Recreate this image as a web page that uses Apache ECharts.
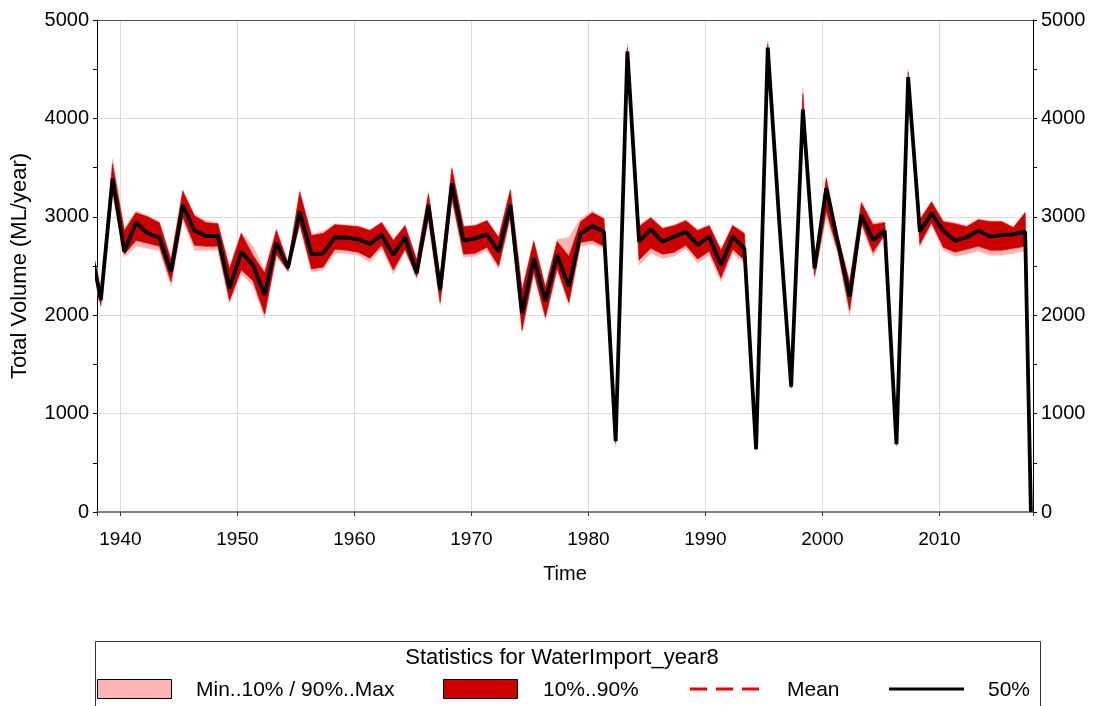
<!DOCTYPE html>
<html>
<head>
<meta charset="utf-8">
<script src="https://cdn.jsdelivr.net/npm/echarts@6/dist/echarts.min.js"></script>
<style>
  html, body { margin: 0; padding: 0; background: #ffffff; }
  #chart { width: 1096px; height: 706px; }
</style>
</head>
<body>
<div id="chart"></div>
<script>
// Annual water import statistics (ML/year), one value per simulated year.
const years = [
  1937, 1938, 1939, 1940, 1941, 1942, 1943, 1944, 1945, 1946,
  1947, 1948, 1949, 1950, 1951, 1952, 1953, 1954, 1955, 1956,
  1957, 1958, 1959, 1960, 1961, 1962, 1963, 1964, 1965, 1966,
  1967, 1968, 1969, 1970, 1971, 1972, 1973, 1974, 1975, 1976,
  1977, 1978, 1979, 1980, 1981, 1982, 1983, 1984, 1985, 1986,
  1987, 1988, 1989, 1990, 1991, 1992, 1993, 1994, 1995, 1996,
  1997, 1998, 1999, 2000, 2001, 2002, 2003, 2004, 2005, 2006,
  2007, 2008, 2009, 2010, 2011, 2012, 2013, 2014, 2015, 2016,
  2017
];
// each annual value is reported about a third of the way into its year
const reportFraction = 0.33;
// the run closes shortly before 2018 with a zero volume
const endTime = 2017.82;
const endVolume = 0;

const p50 = [
  2770, 2154, 3390, 2645, 2940, 2832, 2788, 2442, 3120, 2859,
  2805, 2805, 2273, 2645, 2510, 2205, 2737, 2483, 3052, 2619,
  2629, 2792, 2788, 2771, 2724, 2815, 2612, 2792, 2425, 3120,
  2256, 3340, 2757, 2781, 2822, 2645, 3120, 2019, 2578, 2144,
  2612, 2290, 2832, 2906, 2849,  720, 4680, 2747, 2873, 2747,
  2798, 2849, 2713, 2798, 2510, 2798, 2680,  640, 4720, 2920,
  1274, 4090, 2476, 3290, 2737, 2188, 3018, 2764, 2859,  690,
  4420, 2849, 3035, 2859, 2757, 2792, 2859, 2798, 2815, 2822,
  2849
];
const p10 = [
  2650, 2100, 3280, 2620, 2760, 2730, 2700, 2340, 3000, 2710,
  2700, 2700, 2150, 2460, 2350, 2010, 2620, 2450, 2930, 2470,
  2490, 2670, 2660, 2640, 2580, 2710, 2460, 2670, 2390, 2980,
  2130, 3190, 2620, 2630, 2690, 2500, 3010, 1850, 2440, 1980,
  2480, 2130, 2740, 2760, 2700,  700, 4640, 2560, 2680, 2620,
  2640, 2710, 2570, 2650, 2380, 2670, 2560,  630, 4690, 2900,
  1260, 4050, 2400, 3060, 2650, 2050, 2940, 2640, 2820,  680,
  4380, 2720, 2940, 2690, 2640, 2670, 2700, 2660, 2660, 2680,
  2700
];
const p90 = [
  2900, 2230, 3540, 2860, 3040, 3000, 2940, 2560, 3260, 3010,
  2940, 2930, 2470, 2830, 2610, 2430, 2860, 2530, 3250, 2810,
  2830, 2920, 2910, 2900, 2860, 2940, 2760, 2910, 2560, 3230,
  2380, 3490, 2900, 2910, 2960, 2790, 3270, 2250, 2750, 2280,
  2750, 2600, 2950, 3040, 2980,  740, 4720, 2900, 2990, 2880,
  2910, 2960, 2860, 2910, 2660, 2910, 2830,  660, 4760, 2950,
  1290, 4250, 2500, 3390, 2800, 2330, 3140, 2920, 2940,  700,
  4470, 2970, 3150, 2950, 2930, 2900, 2970, 2950, 2950, 2890,
  3040
];
const pMin = [
  2600, 2080, 3220, 2590, 2700, 2680, 2660, 2300, 2970, 2660,
  2660, 2660, 2120, 2420, 2300, 1970, 2600, 2440, 2910, 2440,
  2460, 2630, 2630, 2610, 2540, 2680, 2420, 2650, 2370, 2960,
  2100, 3170, 2590, 2600, 2660, 2470, 2990, 1820, 2420, 1950,
  2450, 2100, 2700, 2720, 2680,  660, 4620, 2510, 2630, 2580,
  2600, 2680, 2530, 2610, 2340, 2630, 2530,  620, 4670, 2890,
  1250, 4030, 2370, 3000, 2620, 1990, 2910, 2600, 2810,  660,
  4360, 2690, 2920, 2660, 2600, 2620, 2650, 2610, 2610, 2630,
  2650
];
const pMax = [
  2950, 2260, 3590, 2880, 3060, 3010, 2950, 2580, 3280, 3020,
  2960, 2940, 2500, 2840, 2700, 2460, 2880, 2540, 3270, 2820,
  2850, 2930, 2920, 2910, 2870, 2950, 2770, 2920, 2570, 3250,
  2400, 3510, 2910, 2920, 2970, 2800, 3290, 2270, 2760, 2300,
  2770, 2790, 2980, 3060, 2990,  760, 4760, 2920, 3000, 2890,
  2920, 2970, 2870, 2920, 2670, 2920, 2840,  670, 4790, 2960,
  1300, 4310, 2510, 3410, 2810, 2350, 3160, 2940, 2950,  710,
  4500, 2980, 3160, 2960, 2940, 2910, 2980, 2960, 2960, 2900,
  3050
];
const yTicks = [0, 1000, 2000, 3000, 4000, 5000];

// time stamps and series values, closing with the final zero record
const times = years.map(y => y + reportFraction).concat([endTime]);
const withEnd = arr => arr.concat([endVolume]);
const s50 = withEnd(p50), s10 = withEnd(p10), s90 = withEnd(p90);
const sMin = withEnd(pMin), sMax = withEnd(pMax);

const PINK = '#ffb4b4';
const RED = '#cc0000';
const FONT = 'Liberation Sans, Arial, sans-serif';

// a filled band between a lower and an upper curve, drawn as one polygon
function bandSeries(name, lo, hi, color, z) {
  return {
    name, type: 'custom', z, silent: true,
    data: times.map((t, i) => [t, lo[i], hi[i]]),
    encode: { x: 0, y: [1, 2] },
    renderItem: (params, api) => {
      if (params.dataIndex !== 0) return null;
      const top = times.map((t, i) => api.coord([t, hi[i]]));
      const bottom = times.map((t, i) => api.coord([t, lo[i]])).reverse();
      const cs = params.coordSys;
      return {
        type: 'polygon',
        shape: { points: top.concat(bottom) },
        style: { fill: color, stroke: color, lineWidth: 0.6 },
        clipPath: { type: 'rect', shape: { x: cs.x, y: cs.y, width: cs.width, height: cs.height } }
      };
    }
  };
}

const chart = echarts.init(document.getElementById('chart'), null, { renderer: 'canvas' });

const yAxisBase = {
  type: 'value', min: yTicks[0], max: yTicks[yTicks.length - 1],
  interval: yTicks[1] - yTicks[0],
  axisLine: { show: true, lineStyle: { color: '#000', width: 1 } },
  axisTick: { show: true, length: 4, lineStyle: { color: '#000' } },
  minorTick: { show: true, splitNumber: 2, length: 4, lineStyle: { color: '#000' } },
  axisLabel: { fontSize: 20, color: '#000', fontFamily: FONT, margin: 8, formatter: v => String(v) }
};

chart.setOption({
  animation: false,
  backgroundColor: '#ffffff',
  grid: { left: 97, right: 63, top: 20, bottom: 194, containLabel: false },
  xAxis: [{
    type: 'value', min: 1938, max: 2018, splitNumber: 8, minInterval: 10, maxInterval: 10,
    name: 'Time', nameLocation: 'middle', nameGap: 52,
    nameTextStyle: { fontSize: 20, color: '#000', fontFamily: FONT },
    axisLine: { show: true, onZero: false, lineStyle: { color: '#808080', width: 2 } },
    axisTick: { show: true, length: 4, lineStyle: { color: '#333' } },
    axisLabel: {
      fontSize: 19, color: '#000', fontFamily: FONT, margin: 18,
      formatter: v => (v % 10 === 0 ? String(v) : '')
    },
    splitLine: { show: true, lineStyle: { color: '#dcdcdc', width: 1 } }
  }, {
    type: 'value', min: 1938, max: 2018, position: 'top',
    axisLine: { show: true, onZero: false, lineStyle: { color: '#505050', width: 1 } },
    axisTick: { show: false }, axisLabel: { show: false }, splitLine: { show: false }
  }],
  yAxis: [Object.assign({}, yAxisBase, {
    position: 'left',
    name: 'Total Volume (ML/year)', nameLocation: 'middle', nameGap: 66, nameRotate: 90,
    nameTextStyle: { fontSize: 22, color: '#000', fontFamily: FONT },
    splitLine: { show: true, lineStyle: { color: '#dcdcdc', width: 1 } }
  }), Object.assign({}, yAxisBase, {
    position: 'right',
    splitLine: { show: false }
  })],
  series: [
    bandSeries('Min..10% / 90%..Max', sMin, sMax, PINK, 3),
    bandSeries('10%..90%', s10, s90, RED, 4),
    {
      name: '50%', type: 'line', data: times.map((t, i) => [t, s50[i]]), symbol: 'none',
      lineStyle: { color: '#000', width: 3.8 }, z: 6, silent: true
    }
  ],
  graphic: [
    { type: 'rect', shape: { x: 95.5, y: 641.5, width: 945, height: 80 },
      style: { fill: '#fff', stroke: '#333', lineWidth: 1 }, z: 0 },
    { type: 'text', x: 562, y: 658,
      style: { text: 'Statistics for WaterImport_year8', fill: '#000', font: '22px ' + FONT,
               textAlign: 'center', textVerticalAlign: 'middle' } },
    { type: 'rect', shape: { x: 97.5, y: 679.5, width: 74, height: 19 },
      style: { fill: PINK, stroke: '#000', lineWidth: 1 } },
    { type: 'text', x: 196, y: 690,
      style: { text: 'Min..10% / 90%..Max', fill: '#000', font: '21px ' + FONT,
               textAlign: 'left', textVerticalAlign: 'middle' } },
    { type: 'rect', shape: { x: 443.5, y: 679.5, width: 74, height: 19 },
      style: { fill: RED, stroke: '#000', lineWidth: 1 } },
    { type: 'text', x: 543, y: 690,
      style: { text: '10%..90%', fill: '#000', font: '21px ' + FONT,
               textAlign: 'left', textVerticalAlign: 'middle' } },
    { type: 'line', shape: { x1: 690, y1: 689, x2: 760, y2: 689 },
      style: { stroke: '#ee0000', lineWidth: 3, lineDash: [17, 9] } },
    { type: 'text', x: 787, y: 690,
      style: { text: 'Mean', fill: '#000', font: '21px ' + FONT,
               textAlign: 'left', textVerticalAlign: 'middle' } },
    { type: 'line', shape: { x1: 889, y1: 689, x2: 964, y2: 689 },
      style: { stroke: '#000', lineWidth: 3 } },
    { type: 'text', x: 988, y: 690,
      style: { text: '50%', fill: '#000', font: '21px ' + FONT,
               textAlign: 'left', textVerticalAlign: 'middle' } }
  ]
});
</script>
</body>
</html>
